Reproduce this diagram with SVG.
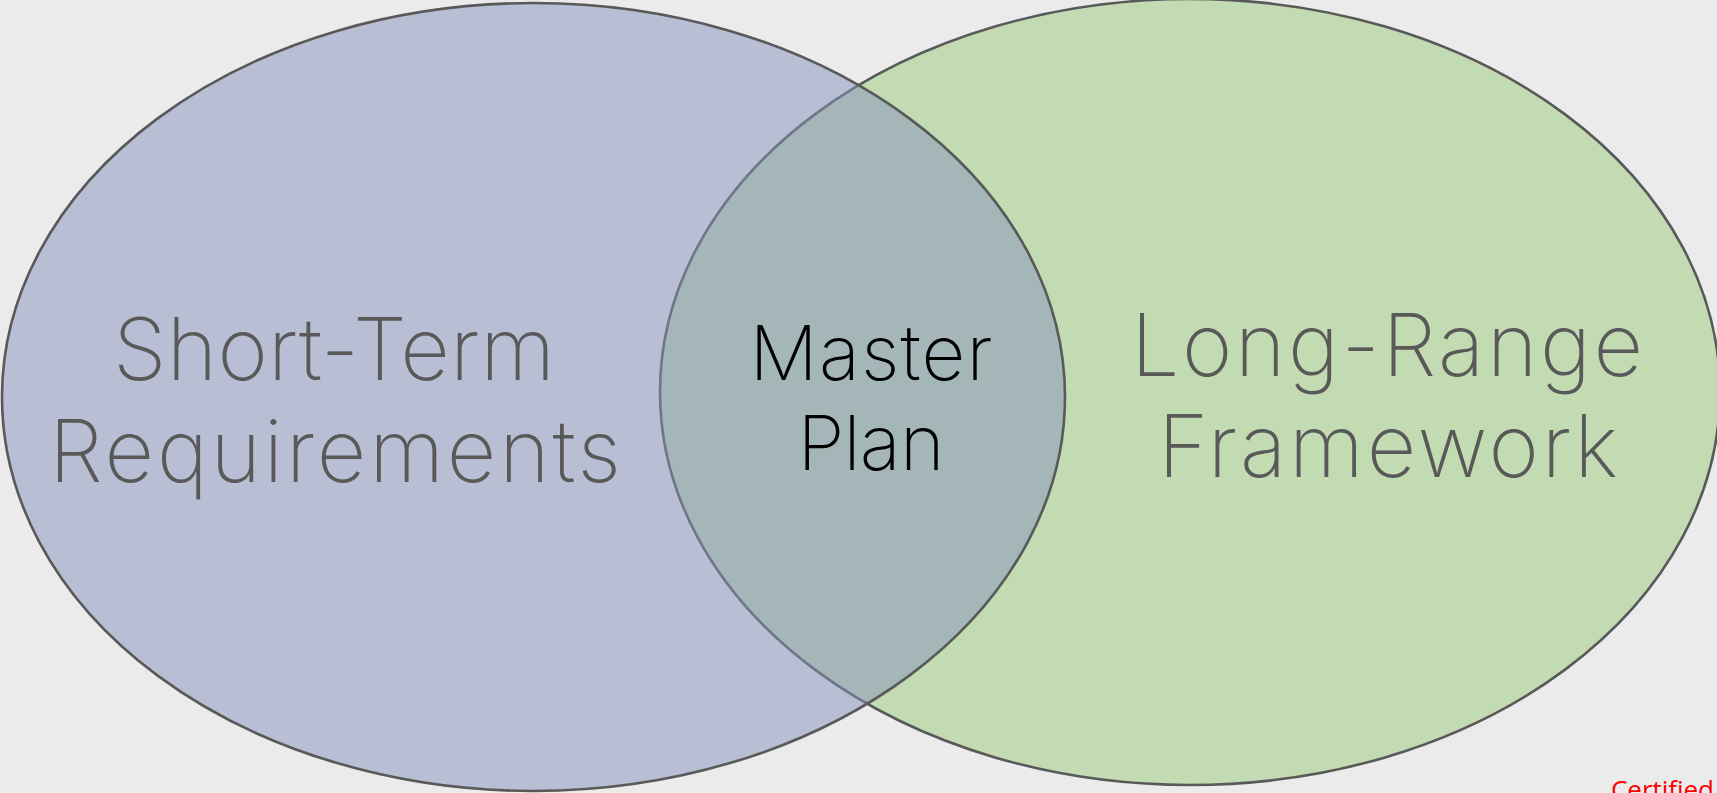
<svg xmlns="http://www.w3.org/2000/svg" width="1717" height="793" viewBox="0 0 1717 793">
<style>
.e{stroke:#595959;stroke-width:2.6}
.t{font-family:"Inter","Open Sans","Liberation Sans",sans-serif;font-weight:200;text-anchor:middle}
.g{fill:#595959;font-size:86px}
.m{fill:#000;font-size:76px}
</style>
<rect width="1717" height="793" fill="#ebebeb"/>
<g id="long-range">
<ellipse class="e" cx="1190" cy="392" rx="530" ry="393" fill="#c3dbb3"/>
</g>
<g id="short-term">
<ellipse class="e" cx="533.500" cy="397" rx="531.500" ry="394" fill="#8591bb" fill-opacity="0.5"/>
</g>
<g id="labels">
<text class="t g" x="334" y="380" textLength="442">Short-Term</text>
<text class="t g" x="335" y="482" textLength="572">Requirements</text>
<text class="t m" x="871" y="380" textLength="243">Master</text>
<text class="t m" x="871" y="470" textLength="147">Plan</text>
<text class="t g" x="1387" y="376" textLength="512">Long-Range</text>
<text class="t g" x="1388" y="477" textLength="460">Framework</text>
</g>
<text x="1611" y="799" font-family="'Open Sans','Liberation Sans',sans-serif" font-size="26" fill="#ff0000" textLength="103">Certified</text>
</svg>
